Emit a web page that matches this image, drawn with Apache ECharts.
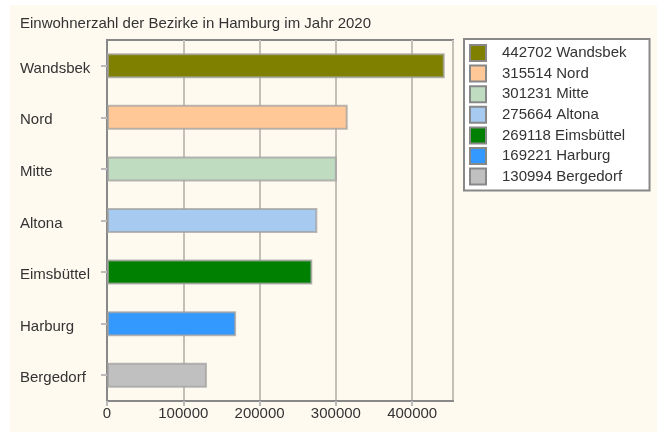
<!DOCTYPE html>
<html>
<head>
<meta charset="utf-8">
<script src="https://cdn.jsdelivr.net/npm/echarts@6/dist/echarts.min.js"></script>
<style>
  html, body { margin: 0; padding: 0; background: #ffffff; }
  #chart { width: 657px; height: 432px; }
</style>
</head>
<body>
<div id="chart"></div>
<script>
// Einwohnerzahl der Hamburger Bezirke, 2020
const districts = ['Wandsbek', 'Nord', 'Mitte', 'Altona', 'Eimsbüttel', 'Harburg', 'Bergedorf'];
const population = [442702, 315514, 301231, 275664, 269118, 169221, 130994];
const barColors = ['#808000', '#ffc896', '#c0dcc0', '#a6caf0', '#008000', '#3399ff', '#c0c0c0'];
const xTicks = [0, 100000, 200000, 300000, 400000];

const FONT = '"Liberation Sans", Arial, sans-serif';
const TEXT = '#333333';

const chart = echarts.init(document.getElementById('chart'), null, { renderer: 'canvas' });

// one series per district so the legend can list each one; stacking keeps them on the same band
const series = districts.map((name, i) => ({
  name: name,
  type: 'bar',
  stack: 'bezirke',
  barWidth: 25,
  itemStyle: {
    color: barColors[i],
    borderColor: 'rgba(160,160,160,0.75)',
    borderWidth: 2
  },
  emphasis: { disabled: true },
  data: districts.map((_, j) => (j === i ? population[i] : '-'))
}));

const option = {
  animation: false,
  backgroundColor: '#ffffff',
  textStyle: { fontFamily: FONT },
  graphic: [{
    type: 'rect',
    z: -10,
    silent: true,
    shape: { x: 10, y: 5, width: 647, height: 427 },
    style: { fill: '#fffaf0' }
  }],
  title: {
    text: 'Einwohnerzahl der Bezirke in Hamburg im Jahr 2020',
    left: 20,
    top: 16,
    padding: 0,
    textStyle: { fontFamily: FONT, fontSize: 15, fontWeight: 'normal', color: TEXT }
  },
  legend: {
    orient: 'vertical',
    left: 464,
    top: 39,
    padding: [5, 23, 5, 5],
    backgroundColor: '#ffffff',
    borderColor: '#888888',
    borderWidth: 2,
    borderRadius: 0,
    itemWidth: 16,
    itemHeight: 16,
    itemGap: 2.6,
    icon: 'rect',
    selectedMode: false,
    itemStyle: { borderColor: '#888888', borderWidth: 2 },
    textStyle: { fontFamily: FONT, fontSize: 15, color: TEXT, lineHeight: 16, padding: [0, 0, 0, 11] },
    formatter: name => population[districts.indexOf(name)] + ' ' + name,
    data: districts
  },
  grid: {
    left: 107,
    top: 40,
    right: 204,
    bottom: 31,
    show: true,
    borderColor: '#888888',
    borderWidth: 2,
    backgroundColor: 'transparent'
  },
  xAxis: {
    type: 'value',
    min: 0,
    max: 453500,
    interval: 100000,
    axisLine: { show: true, lineStyle: { color: '#888888', width: 2 } },
    axisTick: { show: true, length: 5, lineStyle: { color: '#bbbbbb', width: 2 } },
    axisLabel: {
      fontFamily: FONT, fontSize: 15, color: TEXT, margin: 5,
      showMaxLabel: false,
      formatter: v => (xTicks.indexOf(v) >= 0 ? String(v) : '')
    },
    splitLine: { show: true, lineStyle: { color: '#c4c0b8', width: 2 } }
  },
  yAxis: {
    type: 'category',
    inverse: true,
    data: districts,
    axisLine: { show: true, lineStyle: { color: '#888888', width: 2 } },
    axisTick: { show: true, alignWithLabel: true, length: 6, lineStyle: { color: '#bbbbbb', width: 2 } },
    axisLabel: {
      fontFamily: FONT, fontSize: 15, color: TEXT, align: 'left', margin: 87,
      formatter: v => '{n|' + v + '}',
      rich: { n: { fontFamily: FONT, fontSize: 15, color: TEXT, padding: [6, 0, 0, 0] } }
    },
    splitLine: { show: false }
  },
  series: series
};

chart.setOption(option);
</script>
</body>
</html>
